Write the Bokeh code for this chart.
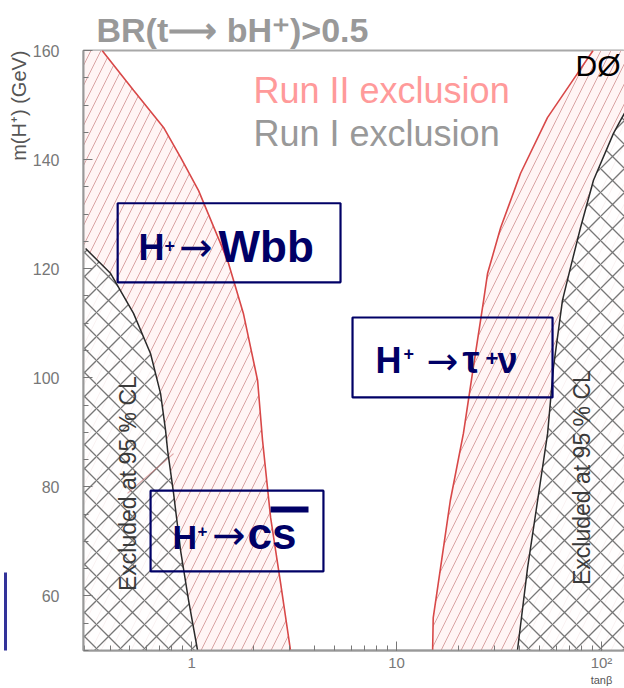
from bokeh.plotting import figure
from bokeh.models import (Label, BoxAnnotation, LogTicker, SingleIntervalTicker, Range1d,
                          Title, LogAxis, LinearAxis, FixedTicker)
from bokeh.embed import file_html
from bokeh.resources import INLINE
import math

# ---------------- data ----------------
X_MIN, X_MAX = 0.297, 129.5      # tan(beta) axis range (log)
Y_MIN, Y_MAX = 50, 160           # m(H+) axis range, GeV

y_ticks_step = 20
x_tick_labels = {1: "1", 10: "10", 100: "10²"}

# Run II exclusion boundaries (red)
run2_left_tanb = [0.366, 0.521, 0.730, 0.884, 1.082, 1.50, 1.79, 2.10, 2.22, 2.43, 2.72, 3.04]
run2_left_mass = [160, 152.7, 145.9, 140.4, 134.3, 121.5, 111.8, 99.5, 88.5, 74.4, 62.3, 50]

run2_right_tanb = [15.0, 15.1, 16.4, 18.3, 21.2, 23.7, 26.6, 27.8, 32.2, 40.3, 54.5, 76.4, 91.0]
run2_right_mass = [50, 56.0, 65.2, 77.5, 89.8, 101.9, 114.2, 119.1, 127.5, 137.5, 147.7, 155.8, 160]

# Run I exclusion boundaries (black)
run1_left_tanb = [0.304, 0.403, 0.521, 0.631, 0.706, 0.747, 0.764, 0.817, 0.884, 0.967, 1.07]
run1_left_mass = [123.7, 119.1, 111.8, 104.4, 97.1, 90.3, 86.7, 78.8, 68.3, 59.2, 50]

run1_right_tanb = [38.9, 43.6, 48.8, 54.6, 58.3, 64.5, 70.6, 79.0, 91.4, 114.4, 123.8, 129.5]
run1_right_mass = [50, 65.2, 77.5, 89.8, 101.9, 114.2, 120.2, 127.5, 136.2, 144.8, 147.2, 148.5]

# faint red pointer stroke inside the Run I region
pointer_tanb = [0.817, 0.487]
pointer_mass = [86.1, 78.8]

# ---------------- styles ----------------
NAVY = "#000066"
RED_LINE = "#d84848"
RED_HATCH = "#d9a3a3"
FONT = "Liberation Sans"

p = figure(width=624, height=688, x_axis_type="log",
           x_range=Range1d(X_MIN, X_MAX), y_range=Range1d(Y_MIN, Y_MAX),
           title="BR(t⟶ bH⁺)>0.5",
           output_backend="svg", toolbar_location=None,
           min_border_left=83, min_border_right=0, min_border_top=50, min_border_bottom=38)
p.title.align = "left"
p.title.offset = 13
p.title.standoff = 3
p.title.text_font = FONT
p.title.text_font_size = "34px"
p.title.text_font_style = "bold"
p.title.text_color = "#999999"

p.grid.visible = False
p.outline_line_color = "#a8a8a8"
p.outline_line_width = 2
p.background_fill_color = "white"
p.border_fill_color = "white"

# Run II hatched regions
p.patch([X_MIN] + run2_left_tanb + [X_MIN], [Y_MAX] + run2_left_mass + [Y_MIN],
        fill_color="#fff5f5", line_color=None,
        hatch_pattern="/", hatch_color=RED_HATCH, hatch_scale=20, hatch_weight=1)
p.patch(run2_right_tanb + [X_MAX, X_MAX], run2_right_mass + [Y_MAX, Y_MIN],
        fill_color="#fff5f5", line_color=None,
        hatch_pattern="/", hatch_color=RED_HATCH, hatch_scale=20, hatch_weight=1)

# Run I cross-hatched regions
p.patch(run1_left_tanb + [X_MIN, X_MIN], run1_left_mass + [Y_MIN, run1_left_mass[0]],
        fill_color="white", fill_alpha=0.85, line_color=None,
        hatch_pattern="x", hatch_color="#777777", hatch_scale=24, hatch_weight=1.3)
p.patch(run1_right_tanb + [X_MAX], run1_right_mass + [Y_MIN],
        fill_color="white", fill_alpha=0.85, line_color=None,
        hatch_pattern="x", hatch_color="#777777", hatch_scale=24, hatch_weight=1.3)

p.line(pointer_tanb, pointer_mass, line_color="#c87070", line_width=1.2, line_alpha=0.6)

# boundary curves
p.line(run2_left_tanb, run2_left_mass, line_color=RED_LINE, line_width=1.6)
p.line(run2_right_tanb, run2_right_mass, line_color=RED_LINE, line_width=1.6)
p.line(run1_left_tanb, run1_left_mass, line_color="#2a2a2a", line_width=1.5)
p.line(run1_right_tanb, run1_right_mass, line_color="#2a2a2a", line_width=1.5)

# axes
for ax in (p.xaxis[0], p.yaxis[0]):
    ax.axis_line_color = "#999999"
    ax.axis_line_width = 2
    ax.major_tick_line_color = "#777777"
    ax.minor_tick_line_color = "#777777"
    ax.major_tick_in = 9
    ax.major_tick_out = 0
    ax.minor_tick_in = 5
    ax.minor_tick_out = 0
    ax.major_label_text_font = FONT
    ax.major_label_text_color = "#777777"

p.xaxis.ticker = LogTicker(num_minor_ticks=10)
p.xaxis.major_label_overrides = x_tick_labels
p.xaxis.major_label_standoff = 3
p.xaxis.major_label_text_font_size = "15px"
p.yaxis.ticker = SingleIntervalTicker(interval=y_ticks_step, num_minor_ticks=4)
p.yaxis.major_label_standoff = 24
p.yaxis.major_label_text_font_size = "16px"

# x-axis title under the 10^2 tick
tan_axis = LogAxis(ticker=FixedTicker(ticks=[100]), major_label_overrides={100: "tanβ"},
                   axis_line_color=None, major_tick_line_color=None, minor_tick_line_color=None,
                   major_tick_in=0, major_tick_out=0, minor_tick_in=0, minor_tick_out=0,
                   major_label_standoff=0, major_label_text_font=FONT,
                   major_label_text_font_size="11px", major_label_text_color="#555555")
p.add_layout(tan_axis, "below")

# y-axis title near the top of the axis
p.add_layout(Title(text="m(H⁺) (GeV)", align="right", text_font=FONT, text_font_size="20px",
                   text_font_style="normal", text_color="#555555", standoff=0), "left")

# cropped edge of another box at the far left
edge_axis = LinearAxis(ticker=FixedTicker(ticks=[]), bounds=(Y_MIN, 64.3),
                       axis_line_color="#333399", axis_line_width=3,
                       major_tick_line_color=None, minor_tick_line_color=None,
                       major_tick_in=0, major_tick_out=0, minor_tick_in=0, minor_tick_out=0,
                       major_label_standoff=0)
p.add_layout(edge_axis, "left")

# header texts (bottom-anchored)
def lab(x, y, s, size, color, font=FONT, style="normal"):
    p.add_layout(Label(x=x, y=y, text=s, text_font=font, text_font_size=size,
                       text_font_style=style, text_color=color, text_baseline="bottom"))

lab(2.006, 148.9, "Run II exclusion", "36px", "#ff9a9a")
lab(2.006, 141.0, "Run I exclusion", "36px", "#999999")
lab(74.7, 154.3, "DØ", "30px", "black")

# rotated "Excluded" texts
for xc, yc in ((0.487, 80.6), (79.9, 81.7)):
    p.add_layout(Label(x=xc, y=yc, text="Excluded at 95 % CL", angle=math.pi / 2,
                       text_align="center", text_baseline="middle", text_font=FONT,
                       text_font_size="23px", text_color="#3a3a3a"))

# decay-mode boxes
def box(l, r, b, t):
    p.add_layout(BoxAnnotation(left=l, right=r, bottom=b, top=t, fill_alpha=0,
                               line_color=NAVY, line_alpha=1, line_width=2.2))

def txt(x, y, s, size, font=FONT, style="bold"):
    lab(x, y, s, size, NAVY, font, style)

box(0.436, 5.33, 117.5, 132.0)
txt(0.551, 120.1, "H", "36px")
txt(0.738, 123.0, "+", "18px")
txt(0.87, 119.8, "→", "40px", "DejaVu Sans", "normal")
txt(1.354, 119.6, "Wbb", "44px")

box(6.10, 57.7, 96.4, 111.05)
txt(7.90, 99.39, "H", "36px")
txt(10.8, 103.3, "+", "18px")
txt(14.0, 99.13, "→", "38px", "DejaVu Sans", "normal")
txt(21.0, 99.32, "τ", "38px")
txt(27.2, 102.2, "+", "22px")
txt(31.1, 99.39, "ν", "36px")

box(0.631, 4.40, 64.5, 79.3)
txt(0.808, 67.4, "H", "34px")
txt(1.07, 70.8, "+", "17px")
txt(1.26, 66.98, "→", "40px", "DejaVu Sans", "normal")
txt(1.876, 67.0, "cs", "44px")
p.add_layout(BoxAnnotation(left=2.43, right=3.72, bottom=75.3, top=76.4,
                           fill_color=NAVY, fill_alpha=1, line_color=None))

open("out.html", "w").write(file_html(p, INLINE))
